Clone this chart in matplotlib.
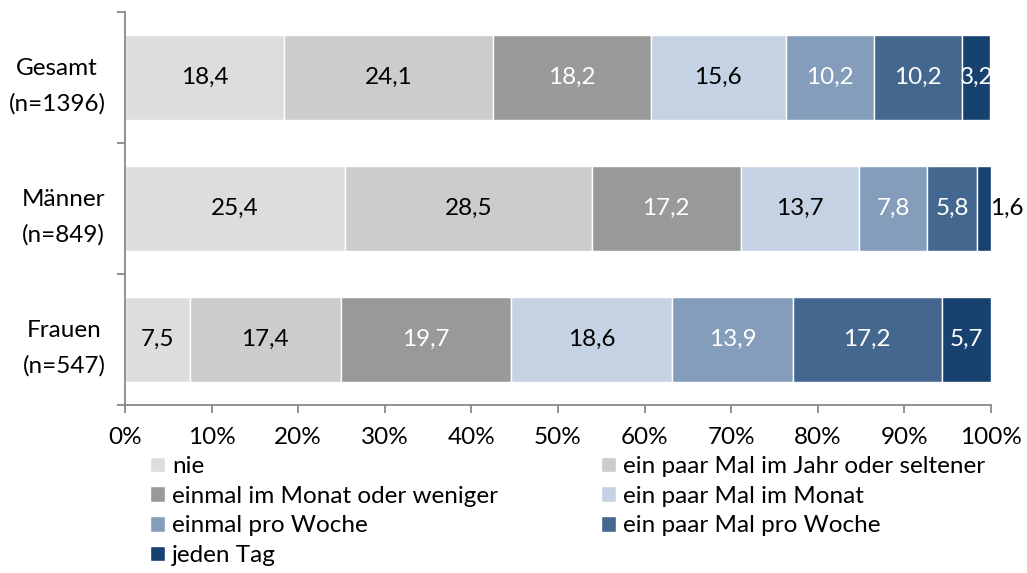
import numpy as np
import matplotlib.pyplot as plt
from matplotlib.patches import Patch

plt.rcParams['font.family'] = ['Lato', 'DejaVu Sans']

# Daten
groups = ['Gesamt\n(n=1396)', 'Männer\n(n=849)', 'Frauen\n(n=547)']
categories = ['nie', 'ein paar Mal im Jahr oder seltener', 'einmal im Monat oder weniger',
              'ein paar Mal im Monat', 'einmal pro Woche', 'ein paar Mal pro Woche', 'jeden Tag']
gesamt = [18.4, 24.1, 18.2, 15.6, 10.2, 10.2, 3.2]
maenner = [25.4, 28.5, 17.2, 13.7, 7.8, 5.8, 1.6]
frauen = [7.5, 17.4, 19.7, 18.6, 13.9, 17.2, 5.7]

colors = ['#DDDDDD', '#CCCCCC', '#999999', '#C5D2E3', '#849DBA', '#43678F', '#17416F']
text_colors = ['black', 'black', 'white', 'black', 'white', 'white', 'white']

FS = 17.5

fig = plt.figure(figsize=(10.27, 5.73), dpi=100)
ax = fig.add_axes([125 / 1027, 1 - 405 / 573, (991 - 125) / 1027, 393 / 573])

data = np.array([gesamt, maenner, frauen])
ypos = [2, 1, 0]
for row, y in zip(data, ypos):
    left = 0
    for j, v in enumerate(row):
        ax.barh(y, v, left=left, height=0.656, color=colors[j], edgecolor='white', linewidth=1)
        label = f'{v:.1f}'.replace('.', ',')
        cx = left + v / 2
        tc = text_colors[j]
        if v < 2:
            # kleiner Wert: Beschriftung rechts neben dem Balken
            cx = left + v + 1.8
            tc = 'black'
        ax.text(cx, y, label, ha='center', va='center', color=tc, fontsize=FS)
        left += v

ax.set_xlim(0, 100)
ax.set_ylim(-0.5, 2.5)
ax.set_xticks(np.arange(0, 101, 10))
ax.set_xticklabels([f'{t}%' for t in range(0, 101, 10)], fontsize=FS)
ax.set_yticks([-0.5, 0.5, 1.5, 2.5])
ax.set_yticklabels([])
ax.set_yticks(ypos, minor=True)
ax.set_yticklabels(groups, minor=True, fontsize=FS, multialignment='center', linespacing=1.8)
ax.tick_params(axis='y', which='minor', length=0, pad=14)
ax.tick_params(axis='y', which='major', length=6, color='#888888', width=1.3)
ax.tick_params(axis='x', length=6, color='#888888', width=1.3, pad=10)

for s in ['top', 'right']:
    ax.spines[s].set_visible(False)
for s in ['left', 'bottom']:
    ax.spines[s].set_color('#888888')
    ax.spines[s].set_linewidth(1.3)

# Legende zeilenweise wie im Original
order = [0, 2, 4, 6, 1, 3, 5]
handles = [Patch(facecolor=colors[i], edgecolor='white', label=categories[i]) for i in order]
fig.legend(handles=handles, ncol=2, loc='upper left', bbox_to_anchor=(150 / 1027, 1 - 456 / 573),
           frameon=False, fontsize=FS, handlelength=0.6, handleheight=0.6, handletextpad=0.3,
           labelspacing=0.36, columnspacing=4.25, borderpad=0, borderaxespad=0)

fig.savefig('out.png', dpi=100)
